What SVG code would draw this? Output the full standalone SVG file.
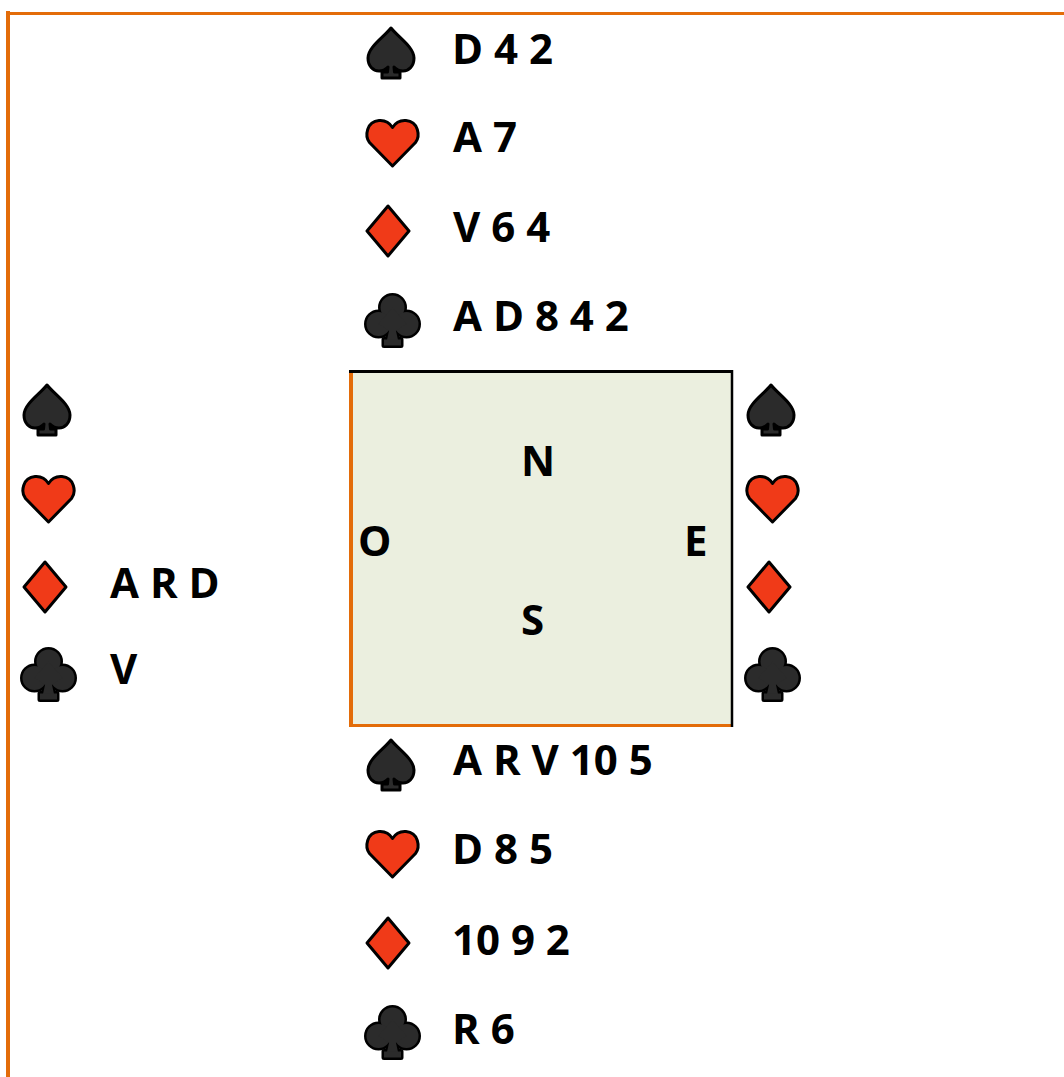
<svg xmlns="http://www.w3.org/2000/svg" xmlns:xlink="http://www.w3.org/1999/xlink" width="1064" height="1077" viewBox="0 0 1064 1077">
<style>
.t{font-family:"Open Sans","Noto Sans","Liberation Sans",sans-serif;font-weight:700;font-size:42px;fill:#000}
.blk{fill:#2b2b2b;stroke:#000;stroke-width:3;stroke-linejoin:round}
.red{fill:#f03a18;stroke:#000;stroke-width:3;stroke-linejoin:round}
.ol{fill:#000;stroke:#000;stroke-width:5;stroke-linejoin:round}
.fi{fill:#2b2b2b}
</style>
<defs>
<path id="spade" class="blk" d="M26,2 C19,11 3,21 3,32 C3,40 8,45 14,45 C18,45 21,43 23,41 L22.5,46 L17,46 L17,52 L35,52 L35,46 L29.5,46 L29,41 C31,43 34,45 38,45 C44,45 49,40 49,32 C49,21 33,11 26,2 Z"/>
<path id="heart" class="red" d="M27.5,48 L4.5,24.5 C-0.5,18 1.5,3.5 14,2.5 C20,2 25,5.5 27.5,9.5 C30,5.5 35,2 41,2.5 C53.5,3.5 55.5,18 50.5,24.5 Z"/>
<path id="diamond" class="red" d="M23,2 L44,27 L23,52 L2,27 Z"/>
<g id="clubshape">
<circle cx="27.5" cy="14.5" r="12"/>
<circle cx="13.5" cy="31" r="12"/>
<circle cx="41.5" cy="31" r="12"/>
<polygon points="13.5,31 27.5,14.5 41.5,31 27.5,40"/>
<polygon points="24,38 31,38 33,47 22,47"/>
<rect x="19" y="46.5" width="17" height="6"/>
</g>
<g id="club">
<use xlink:href="#clubshape" class="ol"/>
<use xlink:href="#clubshape" class="fi"/>
</g>
</defs>

<g id="frame">
<line x1="8" y1="11" x2="8" y2="1077" stroke="#e36c09" stroke-width="4"/>
<line x1="6" y1="13.5" x2="1064" y2="13.5" stroke="#e36c09" stroke-width="3"/>
</g>

<g id="table">
<rect x="350" y="371" width="382" height="355" fill="#ebefdf"/>
<line x1="351" y1="371" x2="351" y2="727" stroke="#e36c09" stroke-width="4"/>
<line x1="349" y1="725.5" x2="733" y2="725.5" stroke="#e36c09" stroke-width="3"/>
<line x1="349" y1="371.5" x2="733" y2="371.5" stroke="#000" stroke-width="3"/>
<line x1="732" y1="370" x2="732" y2="727" stroke="#000" stroke-width="2.5"/>
<text class="t" x="521" y="476">N</text>
<text class="t" x="358" y="556">O</text>
<text class="t" x="684" y="556">E</text>
<text class="t" x="521" y="635">S</text>
</g>

<g id="north">
<use xlink:href="#spade" x="365" y="26"/>
<text class="t" x="452" y="64">D 4 2</text>
<use xlink:href="#heart" x="365" y="118"/>
<text class="t" x="453" y="152">A 7</text>
<use xlink:href="#diamond" x="365" y="204"/>
<text class="t" x="453" y="242">V 6 4</text>
<use xlink:href="#club" x="365" y="293"/>
<text class="t" x="453" y="331">A D 8 4 2</text>
</g>

<g id="west">
<use xlink:href="#spade" x="21" y="383"/>
<use xlink:href="#heart" x="21" y="474"/>
<use xlink:href="#diamond" x="22" y="560"/>
<text class="t" x="110" y="598">A R D</text>
<use xlink:href="#club" x="21" y="647"/>
<text class="t" x="110" y="684">V</text>
</g>

<g id="east">
<use xlink:href="#spade" x="745" y="383"/>
<use xlink:href="#heart" x="745" y="474"/>
<use xlink:href="#diamond" x="746" y="560"/>
<use xlink:href="#club" x="745" y="647"/>
</g>

<g id="south">
<use xlink:href="#spade" x="365" y="738"/>
<text class="t" x="453" y="775">A R V 10 5</text>
<use xlink:href="#heart" x="365" y="829"/>
<text class="t" x="452" y="864">D 8 5</text>
<use xlink:href="#diamond" x="365" y="916"/>
<text class="t" x="452" y="955">10 9 2</text>
<use xlink:href="#club" x="365" y="1005"/>
<text class="t" x="452" y="1044">R 6</text>
</g>
</svg>
